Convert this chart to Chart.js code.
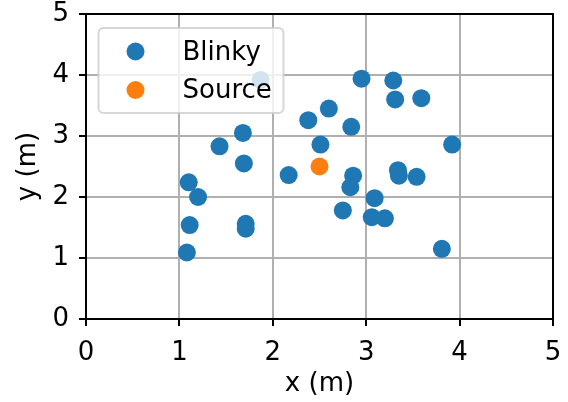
<!DOCTYPE html>
<html>
<head>
<meta charset="utf-8">
<script src="https://cdn.jsdelivr.net/npm/chart.js@4"></script>
<style>
  html, body { margin: 0; padding: 0; background: #ffffff; }
  #wrap { width: 568px; height: 402px; }
</style>
</head>
<body>
<div id="wrap"><canvas id="c" width="568" height="402"></canvas></div>
<script>
// ---- data ----
const blinkyX = [1.87, 2.38, 1.68, 1.43, 1.69, 2.95, 3.29, 3.31, 3.59, 2.60,
                 2.84, 2.51, 3.92, 1.10, 1.20, 1.11, 1.08, 1.71, 1.71, 2.17,
                 2.86, 2.83, 2.75, 3.09, 3.06, 3.20, 3.34, 3.35, 3.54, 3.81];
const blinkyY = [3.92, 3.26, 3.05, 2.83, 2.55, 3.94, 3.91, 3.60, 3.62, 3.45,
                 3.15, 2.86, 2.86, 2.24, 2.00, 1.54, 1.09, 1.56, 1.48, 2.36,
                 2.35, 2.16, 1.78, 1.98, 1.67, 1.65, 2.44, 2.35, 2.33, 1.15];
const sourceX = [2.5];
const sourceY = [2.5];
const seriesLabels = ["Blinky", "Source"];
const tickValues = [0, 1, 2, 3, 4, 5];
const xTitle = "x (m)";
const yTitle = "y (m)";

const FONT = "DejaVu Sans";
const C_BLUE = "#1f77b4";
const C_ORANGE = "#ff7f0e";

function toPoints(xs, ys) { return xs.map((x, i) => ({ x: x, y: ys[i] })); }

const legendPlugin = {
  id: 'insideLegend',
  afterDraw(chart) {
    const ctx = chart.ctx;
    const a = chart.chartArea;
    ctx.save();
    ctx.strokeStyle = '#000';
    ctx.lineWidth = 2;
    ctx.strokeRect(a.left, a.top, a.right - a.left, a.bottom - a.top);
    ctx.restore();

    const bx = a.left + 12.5, by = a.top + 14, bw = 185, bh = 85, r = 5;
    ctx.save();
    ctx.beginPath();
    ctx.moveTo(bx + r, by);
    ctx.lineTo(bx + bw - r, by);
    ctx.arcTo(bx + bw, by, bx + bw, by + r, r);
    ctx.lineTo(bx + bw, by + bh - r);
    ctx.arcTo(bx + bw, by + bh, bx + bw - r, by + bh, r);
    ctx.lineTo(bx + r, by + bh);
    ctx.arcTo(bx, by + bh, bx, by + bh - r, r);
    ctx.lineTo(bx, by + r);
    ctx.arcTo(bx, by, bx + r, by, r);
    ctx.closePath();
    ctx.fillStyle = 'rgba(255,255,255,0.8)';
    ctx.fill();
    ctx.strokeStyle = 'rgba(204,204,204,0.8)';
    ctx.lineWidth = 2;
    ctx.stroke();

    chart.data.datasets.forEach((ds, i) => {
      const cy = by + 23.5 + i * 38.5;
      ctx.beginPath();
      ctx.arc(bx + 37, cy, 9, 0, Math.PI * 2);
      ctx.fillStyle = ds.backgroundColor;
      ctx.fill();
      ctx.fillStyle = '#000';
      ctx.font = '26px "' + FONT + '"';
      ctx.textBaseline = 'alphabetic';
      ctx.textAlign = 'left';
      ctx.fillText(ds.label, bx + 84, cy + 8);
    });
    ctx.restore();
  }
};

const commonScale = (title, isX) => ({
  type: 'linear',
  min: 0,
  max: 5,
  z: 1,
  afterBuildTicks(scale) { scale.ticks = tickValues.map(v => ({ value: v })); },
  ticks: {
    font: { family: FONT, size: 26 },
    color: '#000',
    padding: isX ? 12 : 10,
    maxRotation: 0,
    autoSkip: false,
  },
  grid: {
    color: '#b0b0b0',
    lineWidth: 2,
    tickLength: 7,
    tickColor: '#000',
    tickWidth: 2,
    drawTicks: true,
  },
  border: { display: true, color: '#000', width: 2 },
  title: {
    display: true,
    text: title,
    color: '#000',
    font: { family: FONT, size: 26 },
    padding: isX ? { top: 0, bottom: 2 } : { top: 13, bottom: 0 },
  },
  afterFit(scale) {
    if (isX) scale.height = 83; else scale.width = 86;
    scale.paddingTop = 0; scale.paddingBottom = 0;
    scale.paddingLeft = 0; scale.paddingRight = 0;
  }
});

new Chart(document.getElementById('c'), {
  type: 'scatter',
  data: {
    datasets: [
      { label: seriesLabels[0], data: toPoints(blinkyX, blinkyY),
        backgroundColor: C_BLUE, borderWidth: 0, pointRadius: 9, pointHoverRadius: 9 },
      { label: seriesLabels[1], data: toPoints(sourceX, sourceY),
        backgroundColor: C_ORANGE, borderWidth: 0, pointRadius: 9, pointHoverRadius: 9 }
    ]
  },
  options: {
    responsive: false,
    animation: false,
    events: [],
    layout: { padding: { top: 14, right: 15, left: 0, bottom: 0 } },
    plugins: { legend: { display: false }, tooltip: { enabled: false } },
    scales: {
      x: commonScale(xTitle, true),
      y: commonScale(yTitle, false)
    }
  },
  plugins: [legendPlugin]
});
</script>
</body>
</html>
